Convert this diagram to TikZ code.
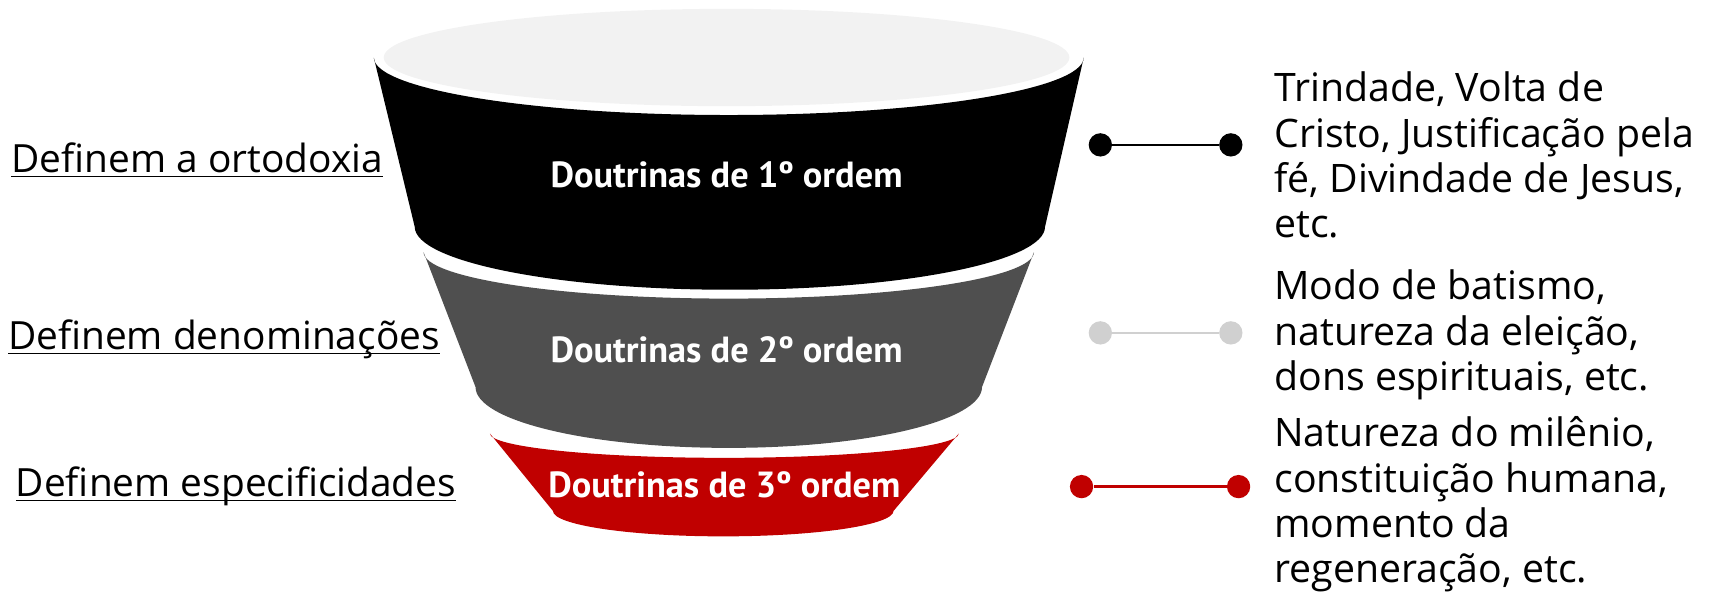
\documentclass[tikz,border=0pt]{standalone}
\usepackage{fontspec}
\setmainfont{Open Sans}
\newfontfamily\bandfont{PT Sans}
\usetikzlibrary{positioning}

\definecolor{rimgray}{HTML}{F2F2F2}
\definecolor{midgray}{HTML}{4F4F4F}
\definecolor{deepred}{HTML}{C00000}
\definecolor{linegray}{HTML}{D0D0D0}

\newcommand{\ulabel}[1]{\underline{\raisebox{0pt}[\height][0.8pt]{#1}}}

\begin{document}
\begin{tikzpicture}[x=0.02cm, y=0.02cm,
  bandtext/.style={text=white, font=\bandfont\bfseries\fontsize{18.7}{22}\selectfont, inner sep=0pt},
  sidelabel/.style={anchor=base west, inner sep=0pt, font=\fontsize{20}{24}\selectfont},
  notes/.style={anchor=base west, align=left, inner sep=0pt, font=\fontsize{20.2}{23.3}\selectfont},
  enddot/.style={circle, fill=#1, inner sep=0pt, minimum size=12},
  link/.style={line width=1.4pt, draw=#1}]
  \useasboundingbox (0,0) rectangle (1568,-535);

  \fill[rimgray] (657,-52) ellipse[x radius=310, y radius=44];
  \fill[black] (338,-52) -- (375,-205) arc[start angle=180, end angle=360, x radius=285, y radius=57]
    -- (980,-52) arc[start angle=0, end angle=-180, x radius=321, y radius=52] -- cycle;
  \fill[midgray] (383,-228) -- (430,-350) arc[start angle=180, end angle=360, x radius=229, y radius=55]
    -- (935,-228) arc[start angle=0, end angle=-180, x radius=276, y radius=42] -- cycle;
  \fill[deepred] (443,-392) -- (500,-462) arc[start angle=180, end angle=360, x radius=154, y radius=23]
    -- (867,-392) arc[start angle=0, end angle=-180, x radius=212, y radius=22] -- cycle;

  \node[bandtext] (first) at (657,-158) {Doutrinas de 1º ordem};
  \node[bandtext] (second) at (657,-316) {Doutrinas de 2º ordem};
  \node[bandtext] (third) at (655,-438) {Doutrinas de 3º ordem};

  \node[sidelabel] (ortho) at (10,-156) {\ulabel{Definem a ortodoxia}};
  \node[sidelabel] (denom) at (7,-316) {\ulabel{Definem denominações}};
  \node[sidelabel] (spec) at (14,-449) {\ulabel{Definem especificidades}};

  \node[enddot=black] (a1) at (995,-131) {};
  \node[enddot=black] (a2) at (1113,-131) {};
  \node[enddot=linegray] (b1) at (995,-301) {};
  \node[enddot=linegray] (b2) at (1113,-301) {};
  \node[enddot=deepred] (c1) at (978,-440) {};
  \node[enddot=deepred] (c2) at (1120,-440) {};
  \draw[link=black] (a1) -- (a2);
  \draw[link=linegray] (b1) -- (b2);
  \draw[link=deepred] (c1) -- (c2);

  \node[notes] (firstnote) at (1152,-215) {Trindade, Volta de\\Cristo, Justificação pela\\fé, Divindade de Jesus,\\etc.};
  \node[notes] (secondnote) at (1152,-353) {Modo de batismo,\\natureza da eleição,\\dons espirituais, etc.};
  \node[notes] (thirdnote) at (1152,-527) {Natureza do milênio,\\constituição humana,\\momento da\\regeneração, etc.};
\end{tikzpicture}
\end{document}
